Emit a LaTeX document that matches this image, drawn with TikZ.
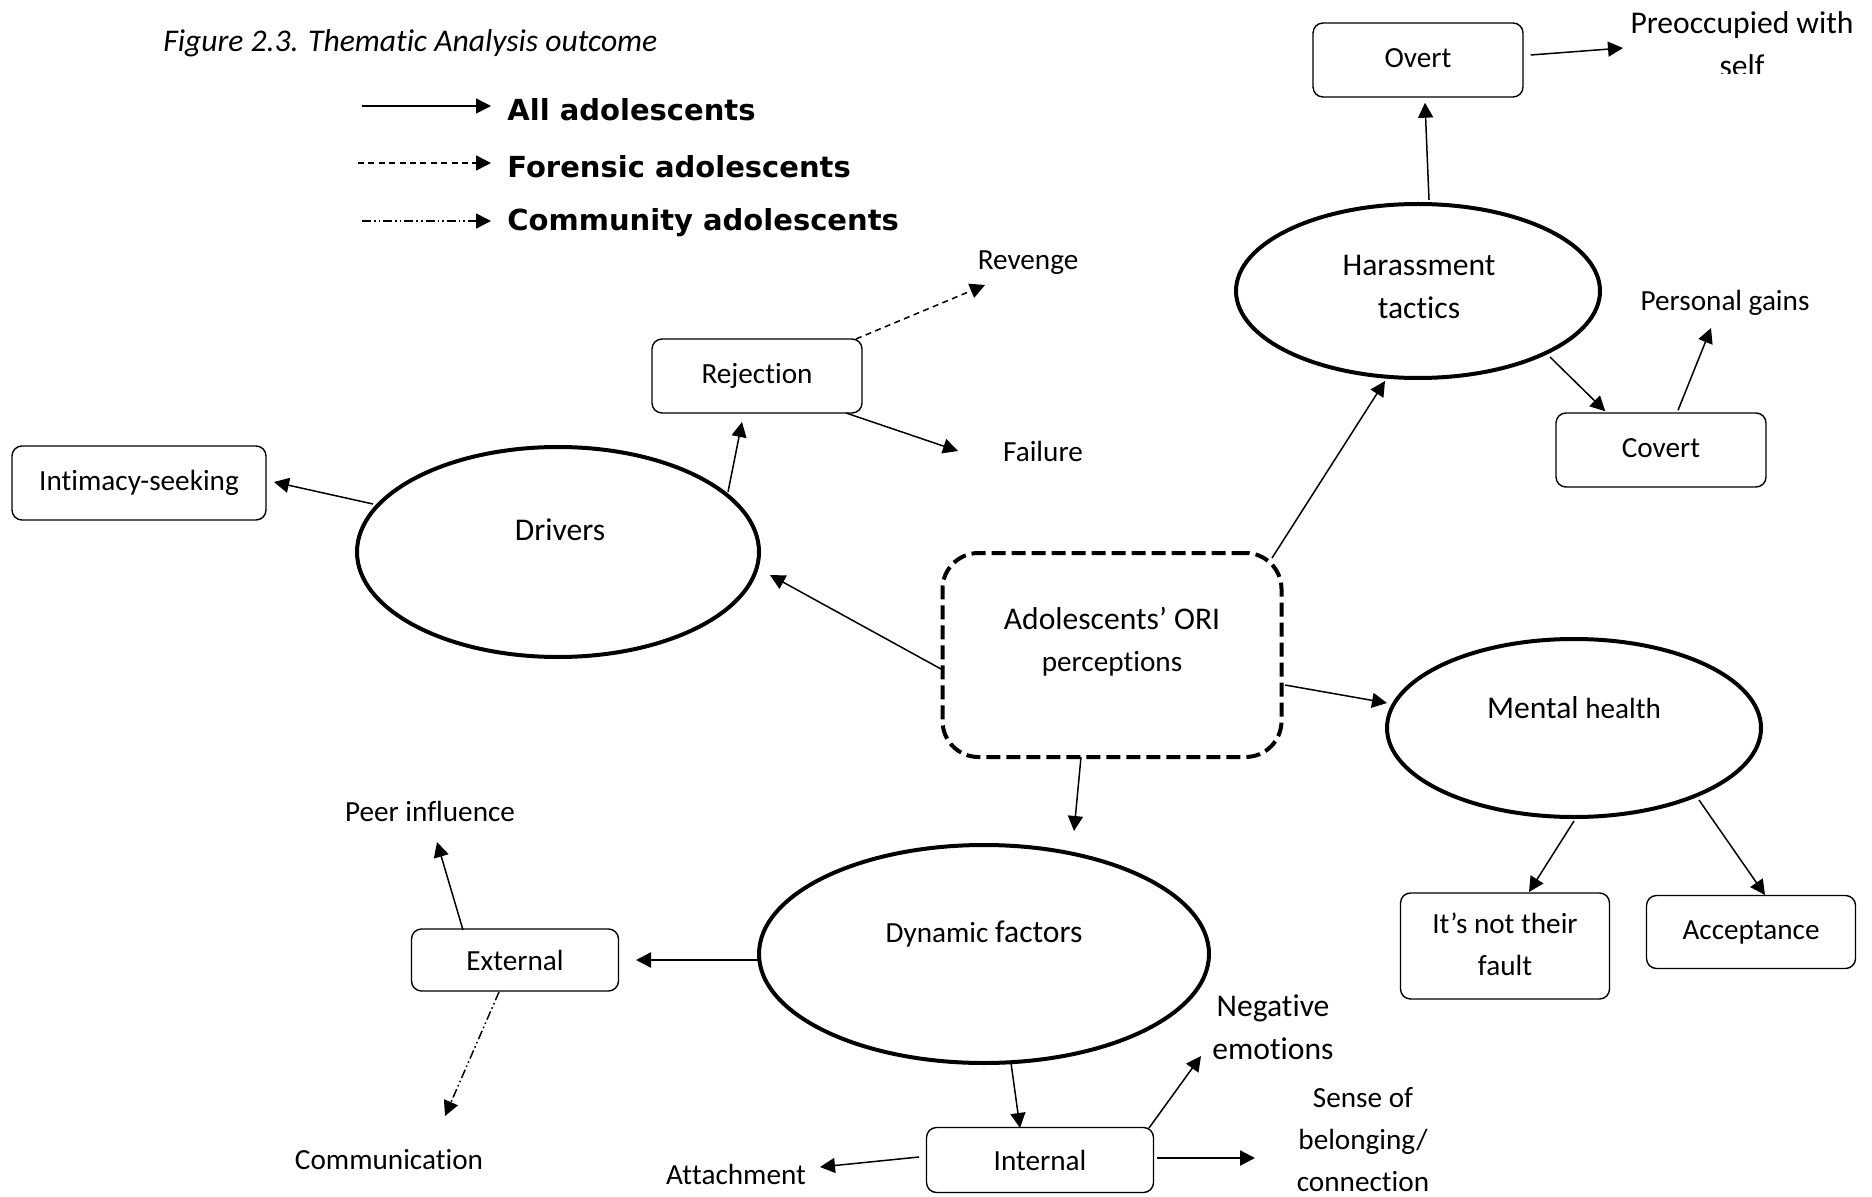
\documentclass[tikz,border=0pt]{standalone}
\usepackage{fontspec}
\setmainfont{Carlito}[Ligatures=NoCommon]
\newfontfamily\legfont{DejaVu Sans}
\usetikzlibrary{shapes.geometric,arrows.meta,calc}

% keep "ti" and "tt" as separate letters
\XeTeXinterchartokenstate=1
\XeTeXcharclass`t=201
\XeTeXcharclass`i=202
\XeTeXinterchartoks 201 202 = {\kern0pt }
\XeTeXinterchartoks 201 201 = {\kern0pt }

% text sizes used in the map
\newcommand\txtN{\fontsize{14.6}{21}\selectfont}
\newcommand\txtB{\fontsize{15.8}{21.5}\selectfont}
\newcommand\lift[1]{\raisebox{1.5pt}{#1}}

\tikzset{
  conn/.style={line width=0.75pt,-{Triangle[length=7.5pt,width=7.5pt]}},
  forensic/.style={conn,dash pattern=on 3pt off 2.2pt},
  community/.style={conn,dash pattern=on 4.5pt off 1.5pt on 0.8pt off 1.5pt on 0.8pt off 1.5pt},
  themebox/.style={draw,line width=0.7pt,rounded corners=5pt,inner sep=0pt,font=\txtN,align=center},
  theme/.style={draw,ellipse,line width=2pt,inner sep=0pt},
  lbl/.style={inner sep=0pt,font=\txtN,align=center},
  legtxt/.style={inner sep=0pt,anchor=west,font=\legfont\bfseries\fontsize{14.5}{17}\selectfont},
}

\begin{document}
\begin{tikzpicture}[x=0.5pt,y=-0.5pt]
\useasboundingbox (0,0) rectangle (1872,1197);

% caption and legend
\node[anchor=west,inner sep=0pt,font=\itshape\txtB] (cap) at (163,43) {Figure 2.3. Thematic Analysis outcome};
\coordinate (la) at (362,106);
\coordinate (lb) at (358,163);
\coordinate (lc) at (362,221);
\node[legtxt] (lA) at (507,110) {All adolescents};
\node[legtxt] (lB) at (507,167) {Forensic adolescents};
\node[legtxt] (lC) at (507,223) {Community adolescents};
\draw[conn] (la) -- ($(lA.west)+(-16,-4)$);
\draw[forensic] (lb) -- ($(lB.west)+(-16,-4)$);
\draw[community] (lc) -- ($(lC.west)+(-16,-2)$);

% central theme
\node[draw,line width=2pt,dash pattern=on 7pt off 3pt,rounded corners=18pt,
      minimum width=169.5pt,minimum height=102pt] (ctr) at (1112,655) {};
\node[lbl] (ctrT) at (1112,642) {{\txtB Adolescents’ ORI}\\perceptions};

% main themes
\node[theme,minimum width=182pt,minimum height=87pt] (har) at (1418,291) {};
\node[lbl,font=\txtB] (harT) at (1419,287) {Harassment\\tactics};
\node[theme,minimum width=201pt,minimum height=105pt] (drv) at (558,552) {};
\node[lbl,font=\txtB] (drvT) at (560,530) {Drivers};
\node[theme,minimum width=187pt,minimum height=89pt] (mh) at (1574,728) {};
\node[lbl] (mhT) at (1574,708) {{\txtB Mental} health};
\node[theme,minimum width=225pt,minimum height=109pt] (dyn) at (984,954) {};
\node[lbl] (dynT) at (984,934) {Dynamic {\txtB factors}};

% sub-themes
\node[themebox,minimum width=105pt,minimum height=37pt] (ovt) at (1418,60) {\lift{Overt}};
\node[themebox,minimum width=105pt,minimum height=37pt] (cov) at (1661,450) {\lift{Covert}};
\node[themebox,minimum width=105pt,minimum height=37pt] (rej) at (757,376) {\lift{Rejection}};
\node[themebox,minimum width=127pt,minimum height=37pt] (int) at (139,483) {\lift{Intimacy-seeking}};
\node[themebox,minimum width=103.5pt,minimum height=31pt] (ext) at (515,960) {External};
\node[themebox,minimum width=113.5pt,minimum height=32.5pt] (intl) at (1040,1160) {Internal};
\node[themebox,minimum width=104.5pt,minimum height=53pt] (fault) at (1505,946)
  {\raisebox{-3pt}{\begin{tabular}{@{}c@{}}It’s not their\\fault\end{tabular}}};
\node[themebox,minimum width=104.5pt,minimum height=36.5pt] (acc) at (1751,932) {\raisebox{0.5pt}{Acceptance}};

% codes; the second line of this one is cut off by its frame
\begin{scope}
  \clip (1600,0) rectangle (1872,74);
  \node[lbl,font=\txtB,anchor=base] (pre) at (1742,34)
    {\begin{tabular}[t]{@{}c@{}}Preoccupied with\\self\end{tabular}};
\end{scope}
\node[lbl] (gains) at (1725,303) {Personal gains};
\node[lbl] (rev) at (1028,263) {Revenge};
\node[lbl] (fail) at (1043,451) {Failure};
\node[lbl] (peer) at (430,811) {Peer influence};
\node[lbl] (comm) at (389,1160) {Communication};
\node[lbl] (att) at (736,1174) {Attachment};
\node[lbl,font=\txtB] (neg) at (1273,1027) {Negative\\emotions};
\node[lbl] (sense) at (1363,1140) {Sense of\\belonging/\\connection};

% connectors
\draw[conn] ($(har.north)+(11,-2)$) -- ($(ovt.south)+(7,5)$);
\draw[conn] ($(ovt.east)+(7,-5)$) -- ($(pre.base)+(-119,14)$);
\draw[conn] ($(har.center)+(132,66)$) -- ($(cov.north west)+(50,-1)$);
\draw[conn] ($(cov.north)+(17,-2)$) -- ($(gains.center)+(-14,25)$);
\draw[forensic] ($(rej.center)+(99,-37)$) -- ($(rev.center)+(-43,22)$);
\draw[conn] ($(rej.center)+(89,37)$) -- ($(fail.center)+(-85,0)$);
\draw[conn] ($(drv.center)+(-185,-48)$) -- ($(int.center)+(135,-1)$);
\draw[conn] ($(drv.center)+(170,-60)$) -- ($(rej.center)+(-15,46)$);
\draw[conn] ($(ctr.center)+(-171,14)$) -- ($(drv.center)+(212,23)$);
\draw[conn] ($(ctr.center)+(160,-97)$) -- ($(har.center)+(-33,90)$);
\draw[conn] ($(ctr.center)+(173,30)$) -- ($(mh.center)+(-187,-25)$);
\draw[conn] ($(ctr.center)+(-31,102)$) -- ($(dyn.center)+(90,-123)$);
\draw[conn] ($(mh.south)+(0,2)$) -- ($(fault.center)+(24,-54)$);
\draw[conn] ($(mh.center)+(125,72)$) -- ($(acc.center)+(14,-37)$);
\draw[conn,line width=1.2pt] ($(dyn.west)+(1,6)$) -- ($(ext.center)+(121,0)$);
\draw[conn] ($(ext.center)+(-52,-30)$) -- ($(peer.center)+(7,31)$);
\draw[community] ($(ext.center)+(-16,32)$) -- ($(comm.center)+(56,-44)$);
\draw[conn] ($(dyn.center)+(27,109)$) -- ($(intl.center)+(-20,-32)$);
\draw[conn] ($(intl.center)+(-121,-3)$) -- ($(att.center)+(84,-7)$);
\draw[conn] ($(intl.center)+(109,-32)$) -- ($(neg.center)+(-72,29)$);
\draw[conn,line width=1.2pt] ($(intl.center)+(117,-2)$) -- ($(sense.center)+(-108,18)$);
\end{tikzpicture}
\end{document}
